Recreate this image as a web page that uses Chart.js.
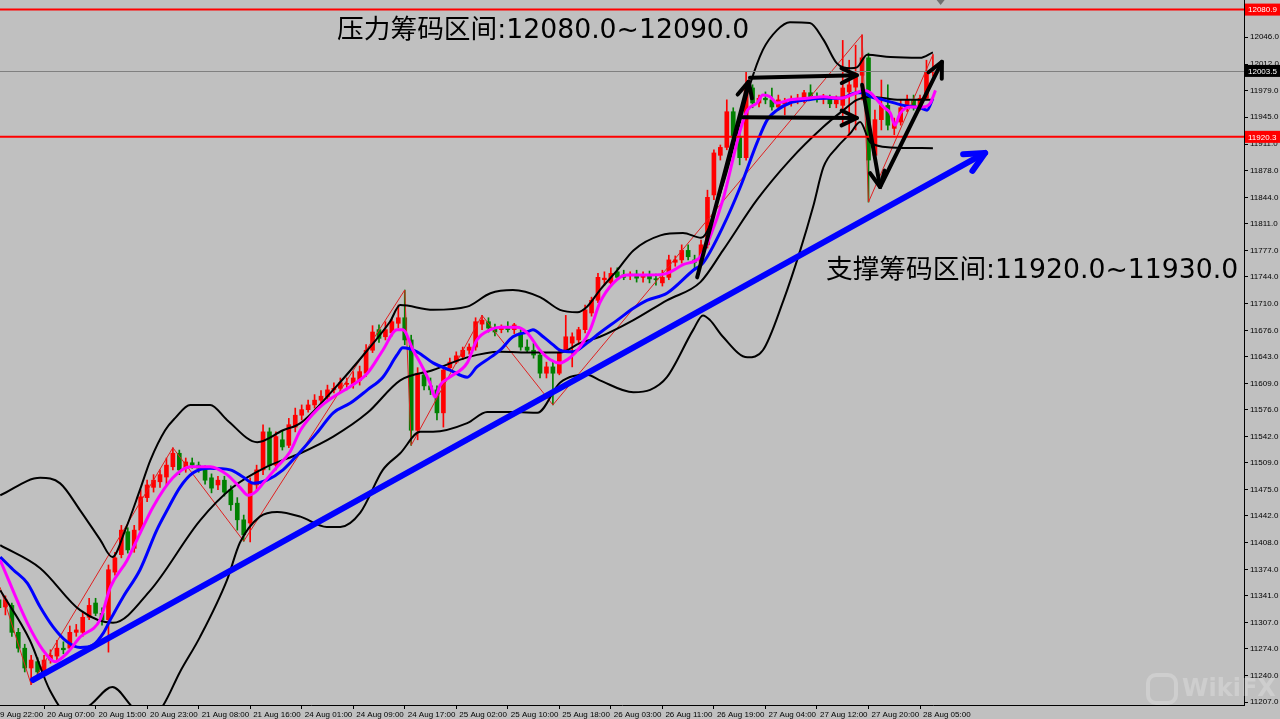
<!DOCTYPE html>
<html><head><meta charset="utf-8">
<script src="https://cdn.jsdelivr.net/npm/chart.js@4.4.1/dist/chart.umd.min.js"></script>
<style>html,body{margin:0;padding:0;background:#c0c0c0;overflow:hidden}canvas{display:block}</style>
</head><body>
<canvas id="c" width="1280" height="719"></canvas>
<script>
// ---------- DATA ----------
const xLabels = ['19 Aug 22:00','20 Aug 07:00','20 Aug 15:00','20 Aug 23:00','21 Aug 08:00','21 Aug 16:00','24 Aug 01:00','24 Aug 09:00','24 Aug 17:00','25 Aug 02:00','25 Aug 10:00','25 Aug 18:00','26 Aug 03:00','26 Aug 11:00','26 Aug 19:00','27 Aug 04:00','27 Aug 12:00','27 Aug 20:00','28 Aug 05:00'];
const xLabelBars = [0,8,16,24,32,40,48,56,64,72,80,88,96,104,112,120,128,136,144];
const yTicks = [12046,12012,11979,11945,11911,11878,11844,11811,11777,11744,11710,11676,11643,11609,11576,11542,11509,11475,11442,11408,11374,11341,11307,11274,11240,11207];

// hourly candles, bars 1..146
const open = [11336,11327,11329,11295,11275,11250,11258,11245,11260,11265,11275,11275,11295,11295,11314,11332,11319,11311,11371,11393,11422,11401,11424,11465,11478,11485,11491,11504,11521,11502,11509,11506,11500,11490,11481,11487,11475,11458,11437,11433,11481,11500,11548,11506,11538,11531,11554,11569,11576,11582,11588,11592,11601,11603,11608,11608,11613,11622,11651,11677,11668,11673,11685,11692,11664,11550,11620,11606,11601,11572,11629,11636,11643,11651,11655,11684,11687,11679,11677,11679,11677,11673,11655,11651,11645,11622,11630,11622,11651,11660,11664,11677,11698,11714,11740,11736,11750,11746,11745,11747,11743,11745,11741,11736,11743,11762,11765,11777,11765,11762,11784,11847,11897,11907,11952,11920,11894,11982,11963,11969,11967,11958,11962,11964,11967,11967,11976,11971,11968,11969,11962,11960,11977,11983,11998,12020,11897,11942,11960,11931,11939,11957,11967,11959,11969,12002];
const high = [11342,11341,11332,11300,11280,11266,11263,11266,11273,11285,11283,11303,11305,11321,11338,11338,11326,11380,11396,11430,11427,11430,11475,11487,11494,11500,11515,11528,11525,11515,11515,11510,11505,11495,11492,11492,11480,11465,11443,11490,11506,11557,11553,11548,11550,11565,11578,11582,11588,11595,11600,11607,11610,11616,11616,11624,11631,11658,11682,11683,11687,11692,11708,11727,11670,11629,11626,11616,11606,11632,11641,11649,11655,11659,11692,11695,11692,11684,11683,11687,11685,11677,11664,11660,11651,11636,11636,11651,11695,11673,11680,11708,11718,11748,11750,11755,11755,11752,11750,11752,11750,11751,11747,11752,11771,11770,11784,11784,11771,11790,11853,11904,11910,11967,11957,11929,12002,11986,11973,11977,11982,11973,11969,11972,11974,11979,11986,11976,11974,11973,11972,12042,12017,12036,12049,12026,11954,11992,11986,11944,11967,11973,11973,11973,12017,12024];
const low = [11321,11317,11290,11270,11245,11229,11240,11240,11256,11260,11268,11273,11290,11290,11311,11316,11304,11270,11367,11389,11395,11396,11422,11460,11472,11478,11481,11500,11494,11497,11502,11497,11482,11471,11475,11467,11449,11424,11410,11409,11475,11494,11500,11500,11525,11528,11548,11563,11573,11578,11584,11588,11597,11598,11601,11603,11607,11618,11648,11661,11664,11669,11679,11658,11531,11538,11601,11595,11563,11554,11626,11634,11639,11646,11651,11677,11674,11669,11673,11674,11672,11651,11649,11641,11616,11616,11582,11620,11649,11630,11660,11673,11694,11711,11733,11732,11740,11740,11740,11737,11737,11736,11733,11732,11740,11757,11761,11765,11752,11759,11780,11841,11891,11904,11916,11885,11891,11957,11958,11962,11954,11954,11948,11959,11962,11963,11967,11964,11962,11957,11957,11935,11923,11929,11967,11838,11891,11929,11929,11923,11935,11952,11954,11954,11967,11997];
const close = [11326,11336,11295,11275,11250,11260,11245,11260,11266,11275,11273,11295,11298,11314,11329,11319,11311,11374,11389,11424,11399,11424,11466,11481,11487,11494,11506,11521,11500,11510,11506,11502,11487,11477,11487,11472,11456,11437,11418,11483,11500,11548,11506,11542,11529,11557,11569,11576,11582,11588,11593,11601,11603,11610,11609,11616,11624,11651,11674,11666,11677,11687,11692,11664,11550,11622,11606,11601,11572,11626,11636,11644,11651,11655,11687,11689,11679,11674,11679,11677,11683,11655,11651,11645,11622,11630,11622,11648,11668,11668,11677,11702,11714,11743,11742,11748,11743,11743,11747,11742,11746,11741,11740,11743,11765,11765,11777,11769,11762,11784,11844,11900,11907,11952,11920,11894,11986,11963,11969,11967,11958,11967,11964,11967,11969,11976,11971,11968,11969,11962,11967,11982,11986,11998,12020,11891,11942,11960,11935,11939,11957,11967,11959,11969,12002,12003.5];

// indicator lines: [bar position, price]
const maFast = [[1.2,11386],[5.4,11307],[7.8,11273],[9.7,11258],[11.6,11269],[13.6,11289],[16.7,11311],[18.3,11352],[20.9,11386],[22.9,11420],[24.9,11453],[28.0,11490],[30.7,11504],[33.8,11504],[36.4,11494],[38.4,11478],[39.7,11468],[40.8,11472],[42.0,11483],[44.2,11504],[46.2,11523],[47.8,11550],[50.4,11576],[52.9,11592],[55.5,11605],[58.2,11622],[60.6,11651],[62.8,11677],[63.7,11677],[65.3,11651],[66.4,11635],[67.9,11610],[68.7,11592],[69.5,11607],[71.0,11617],[73.7,11635],[75.2,11664],[77.3,11677],[78.8,11680],[81.4,11680],[83.0,11673],[85.0,11651],[86.6,11639],[88.1,11635],[89.7,11642],[91.2,11655],[92.8,11677],[94.3,11711],[96.4,11736],[98.5,11746],[102.1,11746],[104.7,11748],[107.2,11759],[109.9,11769],[111.4,11794],[113.4,11841],[116.1,11929],[117.2,11954],[118.7,11963],[119.6,11973],[120.7,11971],[121.8,11963],[123.8,11967],[126.5,11969],[129.0,11971],[131.6,11969],[134.2,11976],[135.2,11979],[136.3,11976],[137.3,11967],[138.3,11958],[139.4,11950],[140.1,11935],[140.9,11950],[142.5,11958],[144.5,11958],[145.6,11963],[146.4,11979]];
const maSlow = [[1.2,11390],[3.2,11374],[5.4,11357],[7.4,11327],[9.4,11302],[11.6,11283],[13.6,11276],[15.6,11279],[17.2,11294],[18.3,11311],[20.3,11340],[22.9,11374],[25.5,11424],[27.1,11449],[29.1,11478],[31.1,11496],[33.8,11502],[36.9,11500],[38.9,11491],[40.5,11483],[42.6,11487],[45.1,11500],[47.8,11523],[50.4,11547],[52.9,11572],[55.5,11584],[58.2,11601],[60.6,11617],[62.8,11645],[63.7,11654],[65.9,11649],[68.4,11635],[71.0,11626],[73.7,11617],[75.2,11630],[77.3,11642],[78.8,11651],[80.8,11668],[83.0,11674],[83.9,11677],[85.5,11668],[87.0,11658],[88.1,11651],[90.1,11649],[92.3,11660],[94.3,11673],[97.0,11689],[99.5,11704],[101.6,11714],[104.7,11723],[108.8,11752],[110.3,11761],[113.4,11807],[116.1,11857],[118.7,11913],[120.3,11942],[121.8,11954],[123.8,11963],[126.5,11967],[129.0,11969],[131.6,11969],[134.2,11976],[135.2,11976],[136.3,11971],[138.3,11967],[141.4,11960],[144.0,11957],[145.1,11954],[146.0,11969]];
const bbUpper = [[1.2,11468],[7.4,11490],[10.5,11483],[13.6,11449],[16.7,11412],[18.6,11390],[20.6,11424],[22.9,11475],[24.5,11512],[26.8,11550],[28.3,11565],[30.7,11582],[33.8,11582],[36.4,11563],[41.1,11535],[45.1,11550],[47.8,11559],[52.9,11601],[58.2,11651],[61.7,11687],[63.3,11708],[68.4,11702],[73.7,11706],[77.3,11723],[80.8,11727],[85.0,11718],[88.1,11702],[90.8,11699],[92.3,11706],[94.3,11727],[97.0,11752],[99.5,11777],[103.7,11796],[107.2,11799],[110.0,11793],[113.4,11860],[115.6,11925],[117.6,11986],[119.6,12030],[121.8,12055],[123.8,12065],[126.9,12064],[129.0,12043],[131.1,12013],[133.2,12007],[134.2,12008],[135.8,12024],[139.4,12021],[144.0,12020],[146.0,12027]];
const bbMid = [[1.2,11405],[7.4,11376],[13.6,11323],[18.7,11307],[24.5,11348],[32.2,11436],[37.3,11478],[42.6,11504],[47.8,11521],[52.9,11542],[58.2,11572],[63.3,11613],[68.4,11626],[73.7,11642],[78.8,11649],[83.9,11648],[88.1,11648],[91.2,11660],[94.3,11668],[99.5,11689],[104.7,11714],[109.9,11737],[113.4,11777],[118.7,11841],[123.8,11891],[129.0,11933],[132.1,11954],[134.2,11967],[136.3,11971],[140.9,11967],[146.0,11967]];
const bbLower = [[1.2,11348],[5.8,11285],[8.9,11222],[12.0,11191],[15.1,11203],[18.6,11226],[21.8,11200],[24.1,11184],[26.5,11203],[29.1,11245],[32.2,11289],[36.4,11361],[38.4,11408],[41.5,11441],[44.2,11447],[47.8,11441],[51.9,11428],[54.0,11428],[57.1,11446],[60.6,11500],[63.3,11521],[66.4,11548],[68.4,11548],[73.7,11559],[76.8,11573],[81.4,11573],[84.6,11572],[88.1,11610],[92.3,11620],[94.3,11613],[99.5,11598],[102.1,11601],[104.7,11617],[108.8,11677],[110.3,11695],[111.4,11689],[113.4,11668],[117.2,11642],[119.6,11651],[122.8,11714],[125.4,11777],[127.4,11832],[129.0,11882],[131.1,11907],[133.2,11925],[134.7,11939],[136.3,11913],[139.4,11907],[146.0,11906]];
const zigzag = [[1.16,11352],[6,11229],[28,11528],[39,11410],[64,11727],[65,11531],[76,11695],[87,11582],[135,12049],[136,11838],[146,12024]];

// annotations
const levelLines = [12080.9, 11920.3];
const lastPrice = 12003.5;
const trendArrow = [[6.3,11235],[154.1,11900]];
const blackArrows = [
  [[109.4,11743],[117.4,11990]],
  [[117.6,11995],[134.2,11998]],
  [[116.5,11945],[134.2,11944]],
  [[135.0,11986],[137.8,11857]],
  [[137.8,11857],[147.4,12015]]
];
const notes = [
  {text:'压力筹码区间:12080.0~12090.0', bar:53.5, price:12054},
  {text:'支撑筹码区间:11920.0~11930.0', bar:129.4, price:11751}
];

// ---------- CHART ----------
const bars = close.map((_, i) => i + 1);
const candleColors = close.map((c, i) => c >= open[i] ? '#ff0000' : '#008000');
const pts = arr => arr.map(p => ({x: p[0], y: p[1]}));
const lineDs = (data, color, width, order, tension) => ({
  type: 'line', data: pts(data), borderColor: color, borderWidth: width,
  pointRadius: 0, fill: false, order: order,
  tension: tension, cubicInterpolationMode: tension ? 'monotone' : 'default'
});

function drawArrow(ctx, x1, y1, x2, y2, w, color, head) {
  ctx.save();
  ctx.strokeStyle = color; ctx.lineWidth = w; ctx.lineCap = 'round'; ctx.lineJoin = 'round';
  ctx.beginPath(); ctx.moveTo(x1, y1); ctx.lineTo(x2, y2); ctx.stroke();
  const a = Math.atan2(y2 - y1, x2 - x1), sp = 0.45;
  ctx.beginPath();
  ctx.moveTo(x2 - head * Math.cos(a - sp), y2 - head * Math.sin(a - sp));
  ctx.lineTo(x2, y2);
  ctx.lineTo(x2 - head * Math.cos(a + sp), y2 - head * Math.sin(a + sp));
  ctx.stroke();
  ctx.restore();
}

const annot = {
  id: 'annot',
  beforeDraw(chart) {
    const ctx = chart.ctx;
    ctx.save(); ctx.fillStyle = '#c0c0c0'; ctx.fillRect(0, 0, chart.width, chart.height); ctx.restore();
  },
  afterDatasetsDraw(chart) {
    const {ctx, chartArea: a, scales: {x, y}} = chart;
    ctx.save();
    ctx.beginPath(); ctx.rect(a.left, a.top, a.right - a.left, a.bottom - a.top); ctx.clip();
    const yl = Math.round(y.getPixelForValue(lastPrice)) + 0.5;
    ctx.strokeStyle = '#808080'; ctx.lineWidth = 1;
    ctx.beginPath(); ctx.moveTo(a.left, yl); ctx.lineTo(a.right, yl); ctx.stroke();
    levelLines.forEach(v => {
      const yy = y.getPixelForValue(v);
      ctx.strokeStyle = '#ff0000'; ctx.lineWidth = 2;
      ctx.beginPath(); ctx.moveTo(a.left, yy); ctx.lineTo(a.right, yy); ctx.stroke();
    });
    drawArrow(ctx, x.getPixelForValue(trendArrow[0][0]), y.getPixelForValue(trendArrow[0][1]),
      x.getPixelForValue(trendArrow[1][0]), y.getPixelForValue(trendArrow[1][1]), 6, '#0000ff', 22);
    blackArrows.forEach(s => drawArrow(ctx, x.getPixelForValue(s[0][0]), y.getPixelForValue(s[0][1]),
      x.getPixelForValue(s[1][0]), y.getPixelForValue(s[1][1]), 4, '#000000', 17));
    ctx.fillStyle = '#000'; ctx.font = '26.7px "DejaVu Sans", "Noto Sans CJK SC"';
    ctx.textBaseline = 'middle'; ctx.textAlign = 'left';
    notes.forEach(n => ctx.fillText(n.text, x.getPixelForValue(n.bar), y.getPixelForValue(n.price)));
    const mx = x.getPixelForValue(147.2);
    ctx.fillStyle = '#707070';
    ctx.beginPath(); ctx.moveTo(mx - 4, a.top); ctx.lineTo(mx + 4, a.top); ctx.lineTo(mx, a.top + 5); ctx.closePath(); ctx.fill();
    ctx.restore();
  },
  afterDraw(chart) {
    const {ctx, chartArea: a, scales: {y}} = chart;
    ctx.save();
    ctx.font = '8px "Liberation Sans"'; ctx.textBaseline = 'middle'; ctx.textAlign = 'left';
    const box = (v, bg) => {
      const yy = y.getPixelForValue(v);
      ctx.fillStyle = bg; ctx.fillRect(a.right + 1, yy - 6, 36, 12);
      ctx.fillStyle = '#ffffff'; ctx.fillText(v.toFixed(1), a.right + 4, yy + 0.5);
    };
    levelLines.forEach(v => box(v, '#ff0000'));
    box(lastPrice, '#000000');
    ctx.globalAlpha = 0.22;
    ctx.strokeStyle = '#ffffff'; ctx.lineWidth = 4;
    ctx.beginPath(); ctx.roundRect(1148, 675, 28, 28, 8); ctx.stroke();
    ctx.fillStyle = '#ffffff'; ctx.font = 'bold 24px "DejaVu Sans"'; ctx.textBaseline = 'middle';
    ctx.fillText('WikiFX', 1182, 690);
    ctx.restore();
  }
};

new Chart(document.getElementById('c'), {
  type: 'bar',
  data: {
    datasets: [
      {type: 'bar', data: bars.map((b, i) => ({x: b, y: [low[i], high[i]]})), backgroundColor: candleColors, barThickness: 1, grouped: false, order: 30},
      {type: 'bar', data: bars.map((b, i) => ({x: b, y: [open[i], close[i]]})), backgroundColor: candleColors, barThickness: 4, minBarLength: 1, grouped: false, order: 29},
      lineDs(zigzag, '#e02020', 1, 20, 0),
      lineDs(bbLower, '#000000', 2, 10, 0.4),
      lineDs(bbMid, '#000000', 2, 10, 0.4),
      lineDs(bbUpper, '#000000', 2, 10, 0.4),
      lineDs(maSlow, '#0000ff', 3, 5, 0.4),
      lineDs(maFast, '#ff00ff', 3, 4, 0.4)
    ]
  },
  options: {
    responsive: false, animation: false, devicePixelRatio: 1,
    layout: {padding: 0},
    plugins: {legend: {display: false}, tooltip: {enabled: false}},
    scales: {
      x: {
        type: 'linear', min: 1.16, max: 194.3, offset: false, position: 'bottom',
        afterBuildTicks(s) { s.ticks = xLabelBars.map(v => ({value: v})); },
        afterFit(s) { s.height = 14; s.paddingLeft = 0; s.paddingRight = 0; s.paddingTop = 0; s.paddingBottom = 0; },
        ticks: {autoSkip: false, maxRotation: 0, minRotation: 0, align: 'start', padding: 1, labelOffset: 3,
          font: {family: 'Liberation Sans', size: 8}, color: '#000',
          callback: (v, i) => xLabels[i]},
        grid: {display: true, drawOnChartArea: false, drawTicks: true, tickLength: 4, color: '#000', offset: false},
        border: {display: true, color: '#000', width: 1}
      },
      y: {
        type: 'linear', position: 'right', min: 11203.3, max: 12093, beginAtZero: false,
        afterBuildTicks(s) { s.ticks = yTicks.map(v => ({value: v})); },
        afterFit(s) { s.width = 36; s.paddingLeft = 0; s.paddingRight = 0; s.paddingTop = 0; s.paddingBottom = 0; },
        ticks: {autoSkip: false, padding: 2, font: {family: 'Liberation Sans', size: 8}, color: '#000',
          callback: v => Number(v).toFixed(1)},
        grid: {display: true, drawOnChartArea: false, drawTicks: true, tickLength: 4, color: '#000'},
        border: {display: true, color: '#000', width: 1}
      }
    }
  },
  plugins: [annot]
});
</script>
</body></html>
